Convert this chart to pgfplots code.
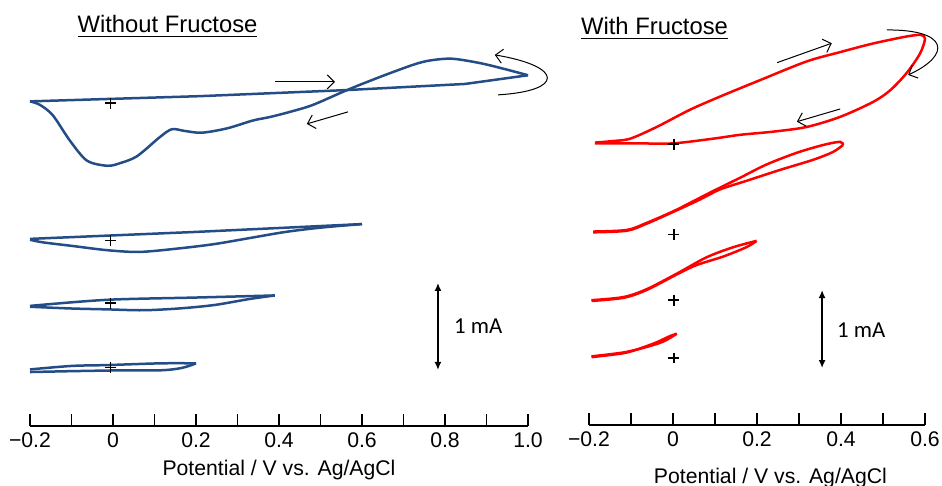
\documentclass[border=0pt]{standalone}
\usepackage{fontspec}
\setmainfont{Liberation Sans}
\newfontfamily\calibri{Carlito}
\usepackage{pgfplots}
\pgfplotsset{compat=1.18}
\usetikzlibrary{arrows.meta}

\definecolor{cvblue}{RGB}{36,76,134}

\pgfplotsset{
  cvaxis/.style={
    scale only axis, enlargelimits=false, clip=false,
    axis x line=bottom, hide y axis,
    x axis line style={-, line width=1pt},
    every outer x axis line/.append style={-},
    tick align=inside,
    major tick length=6pt, minor tick length=6pt,
    tick style={black, line width=0.9pt},
    minor tick style={black, line width=0.9pt},
    tick label style={font=\fontsize{10.6}{12}\selectfont},
    xlabel style={font=\fontsize{10.6}{12}\selectfont},
    /pgf/number format/assume math mode=true,
    ymin=0,
  },
  cv/.style={line width=1.25pt, mark=none},
  zero/.style={only marks, mark=+, mark size=2.7pt, black, line width=0.8pt},
}
\tikzset{
  note/.style={black, line width=0.5pt, -{Straight Barb[length=3.5pt,width=7pt]}},
  bar/.style={black, line width=0.8pt, {Latex[length=4pt,width=3.5pt]}-{Latex[length=4pt,width=3.5pt]}},
}

\begin{document}
\begin{tikzpicture}

% ---------- without fructose ----------
\begin{axis}[cvaxis,
  at={(15pt,30pt)}, anchor=south west,
  width=249pt, height=208pt,
  xmin=-0.2, xmax=1.0, ymax=4.78,
  xtick={-0.2,0,0.2,0.4,0.6,0.8,1.0},
  xticklabels={−0.2,0,0.2,0.4,0.6,0.8,1.0},
  minor xtick={-0.1,0.1,0.3,0.5,0.7,0.9},
  xlabel={Potential / V vs. Ag/AgCl},
  xlabel style={at={(axis description cs:0.5,0)}, anchor=center, yshift=-22pt},
]
% scan 1 (to 1.0 V), offset 3.71 mA
\addplot[cv, cvblue, sharp plot, y filter/.expression={y+3.71}] coordinates {
  (-0.200,0.02) (0.210,0.08) (0.564,0.15) (0.848,0.22) (1.000,0.32)
};
\addplot[cv, cvblue, smooth, y filter/.expression={y+3.71}] coordinates {
  (1.000,0.32) (0.945,0.39) (0.884,0.46) (0.817,0.51) (0.764,0.49)
  (0.723,0.44) (0.643,0.30) (0.564,0.15) (0.482,-0.02) (0.427,-0.10)
  (0.378,-0.16) (0.337,-0.20) (0.275,-0.29) (0.214,-0.34) (0.173,-0.32)
  (0.142,-0.30) (0.113,-0.39) (0.058,-0.61) (0.017,-0.69) (-0.014,-0.72)
  (-0.063,-0.66) (-0.104,-0.43) (-0.145,-0.14) (-0.176,-0.02) (-0.200,0.02)
};
% scan 2 (to 0.6 V)
\addplot[cv, cvblue, sharp plot, y filter/.expression={y+2.13}] coordinates {
  (-0.200,0.02) (0.200,0.10) (0.600,0.19)
};
\addplot[cv, cvblue, smooth, y filter/.expression={y+2.13}] coordinates {
  (0.600,0.19) (0.502,0.15) (0.416,0.10) (0.330,0.03) (0.244,-0.04)
  (0.158,-0.09) (0.064,-0.13) (-0.014,-0.11) (-0.100,-0.06) (-0.169,-0.02)
  (-0.200,0.01)
};
% scan 3 (to 0.4 V)
\addplot[cv, cvblue, smooth, y filter/.expression={y+1.41}] coordinates {
  (-0.200,-0.03) (-0.014,0.04) (0.200,0.066) (0.390,0.09)
};
\addplot[cv, cvblue, smooth, y filter/.expression={y+1.41}] coordinates {
  (0.390,0.09) (0.330,0.05) (0.244,-0.02) (0.158,-0.06) (0.072,-0.08)
  (-0.014,-0.07) (-0.100,-0.06) (-0.200,-0.04)
};
% scan 4 (to 0.2 V)
\addplot[cv, cvblue, smooth, y filter/.expression={y+0.67}] coordinates {
  (-0.200,-0.02) (-0.100,0.02) (-0.014,0.03) (0.115,0.05) (0.200,0.05)
};
\addplot[cv, cvblue, smooth, y filter/.expression={y+0.67}] coordinates {
  (0.200,0.05) (0.183,0.02) (0.158,-0.01) (0.115,-0.03) (0.029,-0.03)
  (-0.100,-0.04) (-0.200,-0.05)
};
% zero-current marks
\addplot[zero] coordinates {(-0.006,3.71) (-0.006,2.13) (-0.006,1.41) (-0.006,0.67)};

% scan direction arrows
\draw[note] (axis cs:0.390,3.954) -- (axis cs:0.535,3.954);
\draw[note] (axis cs:0.566,3.609) -- (axis cs:0.467,3.471);
\draw[note] (axis cs:0.928,3.805) .. controls (axis cs:1.087,3.85) and (axis cs:1.087,4.13) .. (axis cs:0.920,4.264);
% scale bar
\draw[bar] (axis cs:0.783,0.644) -- (axis cs:0.783,1.644);
\node[anchor=west, font=\calibri\fontsize{11.4}{13}\selectfont] at (axis cs:0.805,1.15) {1 mA};
\end{axis}

% ---------- with fructose ----------
\begin{axis}[cvaxis,
  at={(294.5pt,30.5pt)}, anchor=south west,
  width=168pt, height=207.5pt,
  xmin=-0.2, xmax=0.6, ymax=5.32,
  xtick={-0.2,0,0.2,0.4,0.6},
  xticklabels={−0.2,0,0.2,0.4,0.6},
  minor xtick={-0.1,0.1,0.3,0.5},
  xlabel={Potential / V vs. Ag/AgCl},
  xlabel style={at={(axis description cs:0.54,0)}, anchor=center, yshift=-26.5pt},
]
\addplot[cv, red, smooth, y filter/.expression={y+3.60}] coordinates {
  (-0.186,0.02) (-0.143,0.04) (-0.102,0.07) (-0.039,0.22) (0.040,0.44)
  (0.112,0.61) (0.207,0.82) (0.318,1.06) (0.398,1.18) (0.476,1.29)
  (0.556,1.38) (0.590,1.40) (0.600,1.35) (0.588,1.16) (0.556,0.91)
  (0.517,0.69) (0.476,0.54) (0.398,0.35) (0.318,0.22) (0.238,0.16)
  (0.160,0.12) (0.095,0.07) (0.000,0.01) (-0.079,0.01) (-0.143,0.01)
  (-0.186,0.01)
};
\addplot[cv, red, smooth, y filter/.expression={y+2.44}] coordinates {
  (-0.190,0.04) (-0.110,0.06) (-0.063,0.15) (0.001,0.30) (0.056,0.45)
  (0.096,0.56) (0.160,0.73) (0.223,0.90) (0.295,1.05) (0.358,1.15)
  (0.398,1.19) (0.405,1.15)
};
\addplot[cv, red, smooth, y filter/.expression={y+2.44}] coordinates {
  (0.405,1.15) (0.381,1.06) (0.334,0.96) (0.255,0.83) (0.175,0.69)
  (0.112,0.58) (0.064,0.45) (0.000,0.29) (-0.063,0.14) (-0.110,0.05)
  (-0.190,0.03)
};
\addplot[cv, red, smooth, y filter/.expression={y+1.60}] coordinates {
  (-0.194,0.00) (-0.118,0.04) (-0.063,0.14) (0.009,0.34) (0.080,0.55)
  (0.144,0.68) (0.199,0.76)
};
\addplot[cv, red, smooth, y filter/.expression={y+1.60}] coordinates {
  (0.199,0.76) (0.175,0.68) (0.120,0.56) (0.056,0.45) (0.009,0.33)
  (-0.063,0.13) (-0.118,0.03) (-0.194,-0.01)
};
\addplot[cv, red, smooth, y filter/.expression={y+0.86}] coordinates {
  (-0.194,0.02) (-0.118,0.07) (-0.063,0.14) (-0.023,0.21) (0.009,0.31)
};
\addplot[cv, red, smooth, y filter/.expression={y+0.86}] coordinates {
  (0.009,0.31) (-0.007,0.28) (-0.039,0.20) (-0.079,0.12) (-0.118,0.06)
  (-0.194,0.01)
};
\addplot[zero] coordinates {(0.002,3.60) (0.002,2.44) (0.002,1.60) (0.002,0.86)};

\draw[note] (axis cs:0.248,4.645) -- (axis cs:0.378,4.894);
\draw[note] (axis cs:0.398,4.051) -- (axis cs:0.295,3.888);
\draw[note] (axis cs:0.509,5.064) .. controls (axis cs:0.655,5.07) and (axis cs:0.665,4.75) .. (axis cs:0.560,4.487);
\draw[bar] (axis cs:0.355,0.73) -- (axis cs:0.355,1.73);
\node[anchor=west, font=\calibri\fontsize{11.4}{13}\selectfont] at (axis cs:0.374,1.22) {1 mA};
\end{axis}

\node[anchor=base, font=\fontsize{11.9}{14}\selectfont] at (83.75pt,226.5pt) {\underline{Without Fructose}};
\node[anchor=base, font=\fontsize{11.9}{14}\selectfont] at (327.25pt,225.5pt) {\underline{With Fructose}};

\pgfresetboundingbox
\path[use as bounding box] (0,0) rectangle (471pt,243pt);
\end{tikzpicture}
\end{document}
